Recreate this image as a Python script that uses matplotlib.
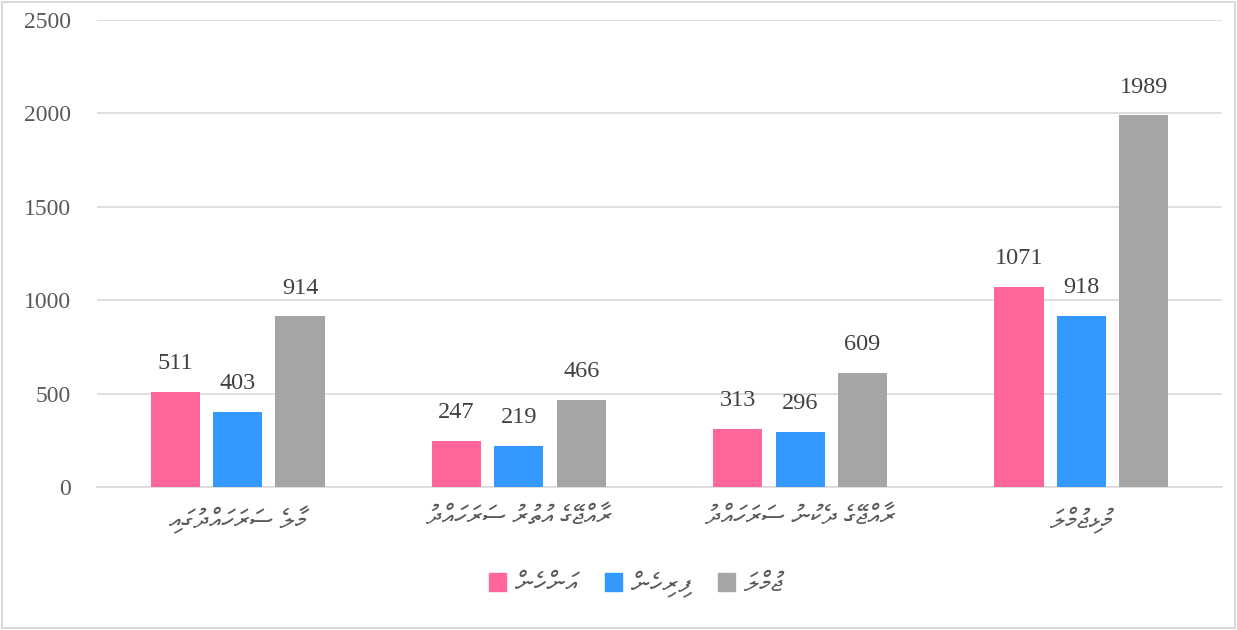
import matplotlib
matplotlib.use('Agg')
import matplotlib.pyplot as plt
import numpy as np
from matplotlib.patches import Rectangle, Patch

# Thaana labels (logical order)
categories = ["މާލެ ސަރަހައްދުގައި", "ރާއްޖޭގެ އުތުރު ސަރަހައްދު",
              "ރާއްޖޭގެ ދެކުނު ސަރަހައްދު", "މުޅިޖުމްލަ"]
series_names = ["އަންހެން", "ފިރިހެން", "ޖުމްލަ"]
female = [511, 247, 313, 1071]
male = [403, 219, 296, 918]
total = [914, 466, 609, 1989]
yticks = [0, 500, 1000, 1500, 2000, 2500]

colors = ["#FF6699", "#3399FF", "#A5A5A5"]
THAANA = ["FreeSerif", "Noto Sans Thaana"]


def visual(s):
    # matplotlib has no bidi support: lay out right-to-left by hand
    return s[::-1]


fig = plt.figure(figsize=(12.37, 6.30), dpi=100)
fig.patches.append(Rectangle((0.002, 0.003), 0.996, 0.994, transform=fig.transFigure,
                             fill=False, edgecolor="#D9D9D9", linewidth=1.5))
ax = fig.add_axes([97 / 1237, 143 / 630, 1125 / 1237, 467 / 630])

x = np.arange(len(categories))
w = 0.175
step = 0.222
for i, vals in enumerate([female, male, total]):
    bars = ax.bar(x + (i - 1) * step, vals, width=w, color=colors[i], zorder=3)
    for b, v in zip(bars, vals):
        ax.text(b.get_x() + b.get_width() / 2, v + 95, str(v), ha="center", va="bottom",
                fontsize=17.5, family="Liberation Serif", color="#404040")

ax.set_xlim(-0.5, 3.5)
ax.set_ylim(0, 2500)
ax.set_yticks(yticks)
ax.set_yticklabels([str(t) for t in yticks], family="Liberation Serif", fontsize=17,
                   color="#595959")
ax.tick_params(axis="y", length=0, pad=19)
ax.tick_params(axis="x", length=0, pad=14)
ax.set_xticks(x)
ax.set_xticklabels([visual(c) for c in categories], family=THAANA, fontsize=19,
                   color="#595959")
ax.grid(axis="y", color="#D9D9D9", linewidth=1.2, zorder=0)
for s in ["top", "right", "left"]:
    ax.spines[s].set_visible(False)
ax.spines["bottom"].set_color("#D9D9D9")
ax.spines["bottom"].set_linewidth(1.2)

handles = [Patch(color=c) for c in colors]
fig.legend(handles, [visual(n) for n in series_names], loc="center",
           bbox_to_anchor=(636 / 1237, 1 - 584 / 630), ncol=3, frameon=False,
           prop={"family": THAANA, "size": 19}, labelcolor="#595959",
           handlelength=0.65, handleheight=0.65, columnspacing=1.0, handletextpad=0.35)

fig.savefig("out.png", dpi=100)
